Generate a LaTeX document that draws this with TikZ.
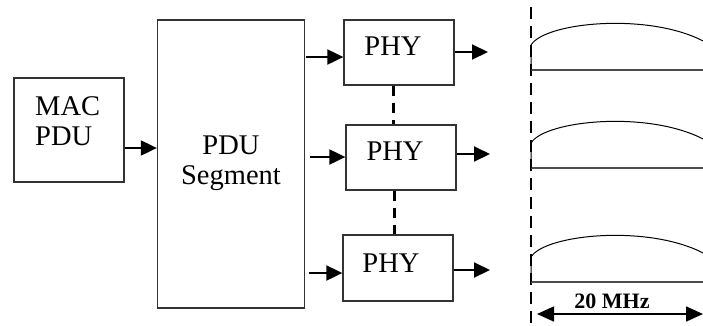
\documentclass[tikz,border=0pt]{standalone}
\usepackage{fontspec}
\setmainfont{Liberation Serif}
\usetikzlibrary{arrows.meta}
\begin{document}
\begin{tikzpicture}[x=1pt,y=-1pt,
  blockbox/.style={draw=black!80,line width=1.3pt,inner sep=0pt},
  blocktext/.style={inner sep=0pt,align=center,font=\fontsize{28.5}{30}\selectfont},
  flow/.style={line width=2pt,-{Triangle[length=16pt,width=15pt]}},
  link/.style={line width=3pt,dash pattern=on 10pt off 7pt},
  spectrum/.style={line width=1pt},
  baseline/.style={draw=black!70,line width=1.6pt}]
\useasboundingbox (0,0) rectangle (703,325);
\clip (0,0) rectangle (703,325);

% blocks
\node[blockbox,minimum width=110pt,minimum height=104pt] (mac) at (69,130) {};
\node[blockbox,minimum width=147pt,minimum height=288pt] (seg) at (231,164) {};
\node[blockbox,minimum width=110pt,minimum height=65pt] (phy1) at (399,52.5) {};
\node[blockbox,minimum width=110pt,minimum height=65pt] (phy2) at (401,157.5) {};
\node[blockbox,minimum width=110pt,minimum height=66pt] (phy3) at (398,268) {};

% block texts (base anchor sits on the last line)
\node[blocktext,align=left,anchor=base west] (mactext) at (35,145) {MAC\\PDU};
\node[blocktext,anchor=base] (segtext) at (231,184) {PDU\\Segment};
\node[blocktext,anchor=base] (phy1text) at (393,55) {PHY};
\node[blocktext,anchor=base] (phy2text) at (395,160) {PHY};
\node[blocktext,anchor=base] (phy3text) at (391,272) {PHY};

% arrows between blocks
\draw[flow] (mac.east |- 0,148) -- (seg.west |- 0,148);
\draw[flow] ([xshift=1pt]seg.east |- 0,57) -- (phy1.west |- 0,57);
\draw[flow] ([xshift=5pt]seg.east |- 0,157) -- (phy2.west |- 0,157);
\draw[flow] ([xshift=4pt]seg.east |- 0,273) -- (phy3.west |- 0,273);

% output arrows
\coordinate (out1) at (488,52);
\coordinate (out2) at (490,154);
\coordinate (out3) at (490,270);
\draw[flow] (phy1.east |- out1) -- (out1);
\draw[flow] (phy2.east |- out2) -- (out2);
\draw[flow] (phy3.east |- out3) -- (out3);

% links between PHY blocks
\draw[link] (393,0 |- phy1.south) -- (393,0 |- phy2.north);
\draw[link] (394,0 |- phy2.south) -- (394,0 |- phy3.north);

% channel boundary
\coordinate (bt) at (530.5,7);
\coordinate (bb) at (530.5,325);
\draw[line width=2pt,dash pattern=on 12pt off 7pt] (bt) -- (bb);

% channel spectra
\foreach \dy in {0,98,212}{
  \draw[baseline] (531,70+\dy) -- (705,70+\dy);
  \draw[spectrum] (531,70+\dy) -- (531,45+\dy)
     .. controls (545,22+\dy) and (650,12+\dy) .. (705,42+\dy);
}

% bandwidth
\coordinate (bwl) at (537,314);
\coordinate (bwr) at (703,314);
\draw[line width=1.6pt,{Triangle[length=17pt,width=15pt]}-{Triangle[length=17pt,width=15pt]}] (bwl) -- (bwr);
\node[inner sep=0pt,anchor=base,font=\bfseries\fontsize{22}{24}\selectfont] (bw) at (612,308) {20 MHz};
\end{tikzpicture}
\end{document}
